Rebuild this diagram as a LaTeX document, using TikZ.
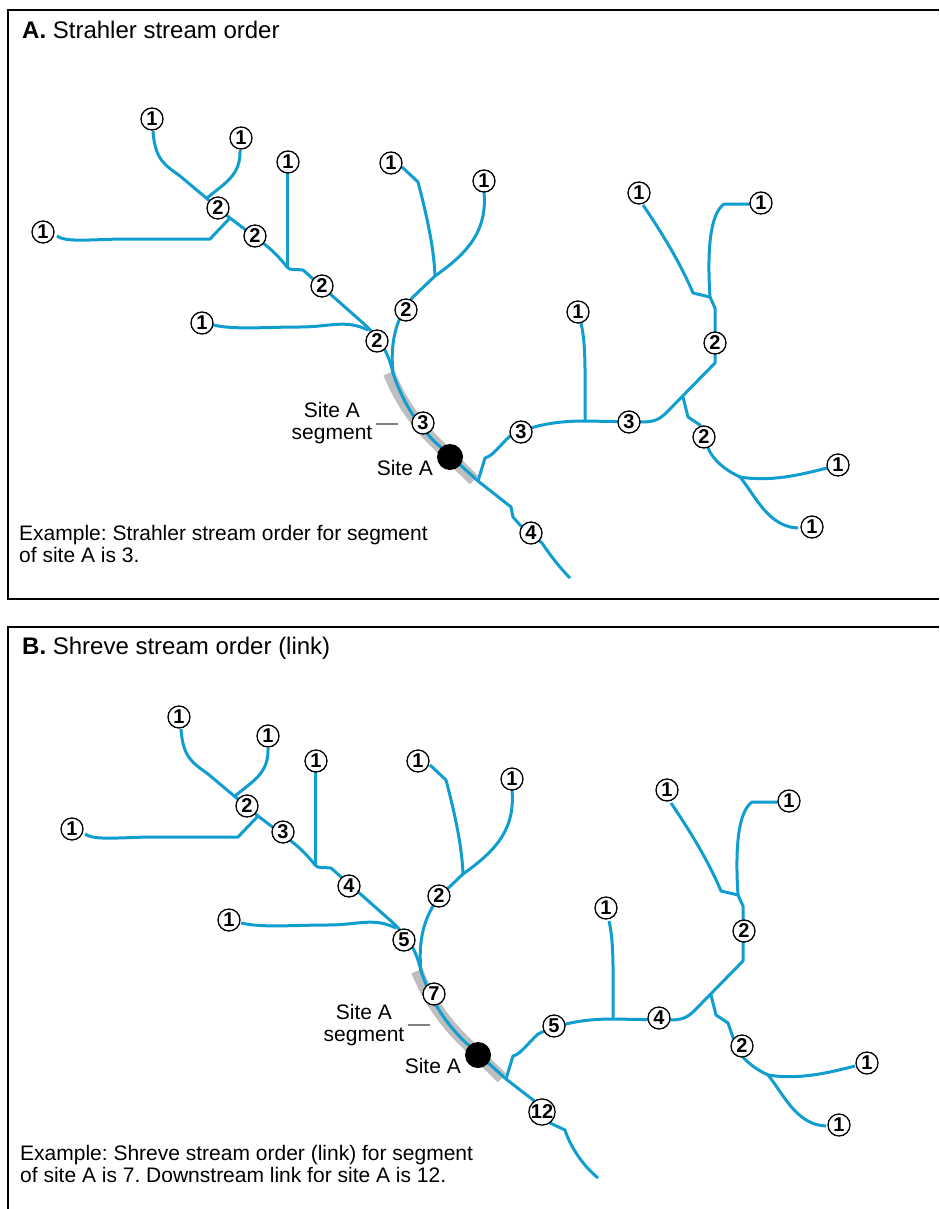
\documentclass[tikz,border=0pt]{standalone}
\usepackage{fontspec}
\setmainfont{Liberation Sans}
\frenchspacing

\definecolor{streamblue}{RGB}{16,158,208}
\definecolor{bandgray}{RGB}{190,190,190}

\tikzset{
  stream/.style={streamblue, line width=3pt, line join=round},
  band/.style={bandgray, line width=12pt},
  order/.style={circle, draw, line width=1.3pt, fill=white, inner sep=0pt,
    minimum size=22pt, font=\bfseries\fontsize{20}{20}\selectfont},
  lbl/.style={inner sep=0pt, font=\fontsize{21}{21.5}\selectfont},
  title/.style={inner sep=0pt, anchor=base west, font=\fontsize{24}{25}\selectfont},
  leader/.style={gray, line width=1.1pt},
  frame/.style={line width=1.4pt},
}

% the river network, drawn in the frame of panel A
\newcommand\streamnet{%
  \draw[band] (389,373) .. controls (400,400) and (415,422) .. (435,442) -- (474,480);
  \draw[stream] (153,131) .. controls (155,160) and (165,165) .. (180,176) -- (230,218);
  \draw[stream] (240,150) .. controls (241,175) and (225,183) .. (207,198);
  \draw[stream] (57,236) .. controls (65,242) and (85,240) .. (120,239) -- (210,239) -- (230,218);
  \draw[stream] (230,218) -- (263,243) .. controls (276,253) and (283,262) .. (287,267)
    .. controls (290,271) and (296,269) .. (303,270) -- (363,323)
    .. controls (378,337) and (388,350) .. (393,373);
  \draw[stream] (287,172) -- (287,267);
  \draw[stream] (213,325) .. controls (235,330) and (265,327) .. (300,327)
    .. controls (330,327) and (345,319) .. (368,330);
  \draw[stream] (402,167) -- (418,182) .. controls (428,220) and (434,250) .. (435,276);
  \draw[stream] (484,192) .. controls (487,228) and (472,250) .. (435,276) -- (413,297)
    .. controls (395,318) and (390,345) .. (393,373);
  \draw[stream] (393,373) .. controls (402,400) and (415,422) .. (435,442) -- (478,481);
  \draw[stream] (478,481) -- (485,458) .. controls (493,456) and (500,445) .. (510,436)
    .. controls (535,424) and (560,421) .. (585,421) -- (642,422)
    .. controls (655,422) and (660,419) .. (667,412) -- (715,363) -- (715,308) -- (710,297);
  \draw[stream] (581,323) .. controls (586,345) and (585,370) .. (585,421);
  \draw[stream] (643,205) .. controls (660,230) and (680,262) .. (693,293) -- (710,297);
  \draw[stream] (750,204) -- (724,204) .. controls (710,214) and (707,250) .. (710,297);
  \draw[stream] (683,397) -- (688,417) -- (700,425) -- (708,448)
    .. controls (713,460) and (725,470) .. (740,477);
  \draw[stream] (740,477) .. controls (770,482) and (800,475) .. (827,468);
  \draw[stream] (740,477) .. controls (755,495) and (768,527) .. (798,528);
  \fill (450,457) circle [radius=13];
}

\begin{document}
\begin{tikzpicture}[x=1pt, y=-1pt]
  \fill[white] (0,0) rectangle (939,1209);
  \useasboundingbox (0,0) rectangle (939,1209);

  % panel frames
  \draw[frame] (939,10) -- (8,10) -- (8,599) -- (939,599);
  \draw[frame] (939,627) -- (8,627) -- (8,1212);

  % A. Strahler
  \streamnet
  \draw[stream] (478,481) -- (511,507) -- (513,517) -- (520,525) -- (542,543)
    .. controls (550,555) and (560,568) .. (570,578);
  \foreach \p/\n [count=\i] in {(152,119)/1, (241,138)/1, (288,162)/1, (391,163)/1,
      (484,181)/1, (43,232)/1, (218,208)/2, (255,236)/2, (322,286)/2, (202,323)/1,
      (377,341)/2, (406,310)/2, (423,423)/3, (521,432)/3, (578,312)/1, (629,422)/3,
      (639,193)/1, (761,203)/1, (715,343)/2, (704,437)/2, (838,465)/1, (812,527)/1,
      (531,533)/4}
    \node[order] (a\i) at \p {\n};

  \node[title] (titleA) at (22,39) {\textbf{A.} Strahler stream order};
  \node[lbl, align=center] (segA) at (332,423) {Site A\\segment};
  \coordinate (legA) at (398,424);
  \draw[leader] (legA) -- ++(-22,0);
  \node[lbl, anchor=base east] (siteA) at (433,475) {Site A};
  \node[lbl, anchor=base west, align=left] (noteA) at (19,562)
    {Example: Strahler stream order for segment\\of site A is 3.};

  % B. Shreve
  \begin{scope}[shift={(28,598)}]
    \streamnet
    \draw[stream] (478,481) -- (509,505) -- (522,525) -- (537,532)
      .. controls (541,545) and (552,565) .. (570,580);
  \end{scope}
  \foreach \p/\n [count=\i] in {(179,717)/1, (268,736)/1, (316,761)/1, (418,761)/1,
      (512,779)/1, (72,829)/1, (247,806)/2, (283,832)/3, (349,886)/4, (229,920)/1,
      (404,940)/5, (439,896)/2, (434,994)/7, (554,1026)/5, (606,908)/1, (659,1018)/4,
      (667,790)/1, (789,801)/1, (744,931)/2, (742,1046)/2, (867,1063)/1, (839,1125)/1,
      (542,1112)/12}
    \node[order] (b\i) at \p {\n};

  \node[title] (titleB) at (22,654) {\textbf{B.} Shreve stream order (link)};
  \node[lbl, align=center] (segB) at (364,1025) {Site A\\segment};
  \coordinate (legB) at (430,1025);
  \draw[leader] (legB) -- ++(-22,0);
  \node[lbl, anchor=base east] (siteB) at (461,1073) {Site A};
  \node[lbl, anchor=base west, align=left] (noteB) at (20,1182)
    {Example: Shreve stream order (link) for segment\\of site A is 7. Downstream link for site A is 12.};
\end{tikzpicture}
\end{document}
